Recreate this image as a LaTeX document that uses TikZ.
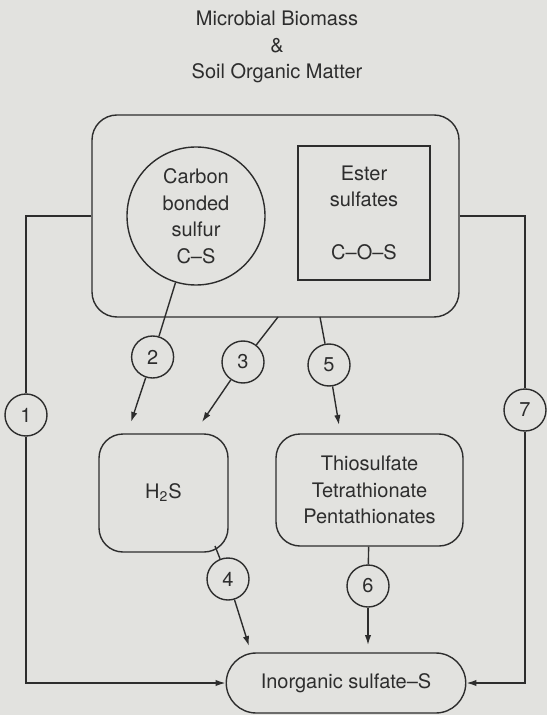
\documentclass[tikz,border=0pt]{standalone}
\usepackage{fontspec}
\setmainfont{TeX Gyre Heros}
\usetikzlibrary{arrows.meta,shapes.misc}

\definecolor{paper}{RGB}{226,226,223}
\definecolor{ink}{RGB}{45,45,45}

\tikzset{
    pool/.style={draw=ink, line width=0.7pt, align=center, inner sep=0pt},
    proc/.style={circle, draw=ink, line width=0.7pt, minimum size=21pt, inner sep=0pt},
    flow/.style={draw=ink, line width=0.7pt},
    flowarrow/.style={flow, -{Latex[length=5pt,width=3.2pt]}}
}

\begin{document}
\begin{tikzpicture}[x=0.5pt, y=-0.5pt, font=\fontsize{10}{13.25}\selectfont, text=ink]
    % Paper
    \fill[paper] (0,0) rectangle (547,715);

    % Title
    \node[align=center] (title) at (277,47) {Microbial Biomass\\\&\\Soil Organic Matter};

    % Organic pool
    \node[pool, rounded corners=12.5pt, minimum width=183.5pt, minimum height=101pt] (som) at (275.5,216) {};
    \node[pool, circle, minimum size=69pt] (cs) at (196,216) {Carbon\\bonded\\sulfur\\C--S};
    \node[pool, minimum width=66pt, minimum height=67pt] (ester) at (364,213) {Ester\\sulfates\\[13.25pt]C--O--S};

    % Intermediates and sulfate
    \node[pool, rounded corners=12pt, minimum width=64.5pt, minimum height=59pt] (h2s) at (163.5,493) {H\textsubscript{2}S};
    \node[pool, rounded corners=12pt, minimum width=93.5pt, minimum height=56pt] (thio) at (369.5,490) {Thiosulfate\\Tetrathionate\\Pentathionates};
    \node[pool, rounded rectangle, minimum width=119.75pt, minimum height=30pt] (inorg) at (346,683) {Inorganic sulfate--S};

    % Process circles
    \foreach \n/\x/\y in {1/26/415, 2/152.6/357, 3/243/362, 4/228/579, 5/329/365, 6/368/586, 7/525/410} {
        \node[proc] (p\n) at (\x,\y) {\n};
    }

    % Free ends
    \coordinate (s3) at (278,317);
    \coordinate (s5) at (320,317);
    \coordinate (s4) at (215,546);
    \coordinate (t2) at (131,422);
    \coordinate (t3) at (202,422);
    \coordinate (t5) at (339,425);
    \coordinate (t4) at (249,646);
    \coordinate (t6) at (368,645);

    % Loops to sulfate
    \draw[flow] (som.west) -| (p1);
    \draw[flowarrow] (p1) |- (inorg);
    \draw[flow] (som.east) -| (p7);
    \draw[flowarrow] (p7) |- (inorg);

    % Inner flows
    \draw[flow] (cs) -- (p2);
    \draw[flowarrow] (p2) -- (t2);
    \draw[flow] (s3) -- (p3);
    \draw[flowarrow] (p3) -- (t3);
    \draw[flow] (s5) -- (p5);
    \draw[flowarrow] (p5) -- (t5);
    \draw[flow] (s4) -- (p4);
    \draw[flowarrow] (p4) -- (t4);
    \draw[flow] (thio) -- (p6);
    \draw[flowarrow] (p6) -- (t6);
\end{tikzpicture}
\end{document}
